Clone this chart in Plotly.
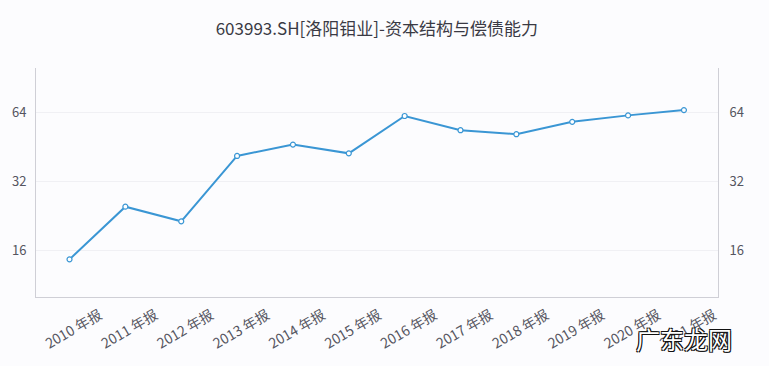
import plotly.graph_objects as go

title = "603993.SH[洛阳钼业]-资本结构与偿债能力"
categories = ["2010 年报", "2011 年报", "2012 年报", "2013 年报", "2014 年报", "2015 年报",
              "2016 年报", "2017 年报", "2018 年报", "2019 年报", "2020 年报", "2021 年报"]
values = [14.6, 24.8, 21.4, 41.3, 46.3, 42.4, 61.7, 53.5, 51.4, 58.2, 62.1, 65.5]
tick_vals = [16, 32, 64]
tick_text = ["16", "32", "64"]

font_family = "Noto Sans CJK SC, Noto Sans, sans-serif"
x_idx = list(range(len(categories)))

fig = go.Figure()
fig.add_trace(go.Scatter(
    x=x_idx, y=values, mode="lines+markers",
    line=dict(color="#3a96d4", width=2),
    marker=dict(symbol="circle", size=5, color="white", line=dict(color="#3a96d4", width=1.2)),
    showlegend=False, hoverinfo="y",
))
fig.add_trace(go.Scatter(
    x=x_idx, y=values, mode="lines", yaxis="y2",
    line=dict(color="rgba(0,0,0,0)", width=0),
    showlegend=False, hoverinfo="skip",
))

axis_common = dict(
    type="log", range=[1, 2], tickvals=tick_vals, ticktext=tick_text,
    tickfont=dict(size=13, color="#555560", family=font_family),
    showline=True, linecolor="#cfcfd6", linewidth=1, ticks="",
    zeroline=False,
)
fig.update_layout(
    width=769, height=366,
    margin=dict(l=33, r=51, t=68, b=69),
    paper_bgcolor="#fcfcfe", plot_bgcolor="#fcfcfe",
    title=dict(text=title, x=0.49, xanchor="center", y=0.92, yanchor="middle",
               font=dict(size=17, color="#3a3a44", family=font_family)),
    xaxis=dict(
        tickmode="array", tickvals=x_idx, ticktext=categories,
        range=[-0.6, 11.61], tickangle=-30,
        tickfont=dict(size=14, color="#555560", family=font_family),
        showline=True, linecolor="#cfcfd6", linewidth=1, showgrid=False,
        ticks="", zeroline=False, ticklabelshift=30, ticklabelstandoff=4,
    ),
    yaxis=dict(**axis_common, side="left", showgrid=True, gridcolor="#f0f0f4", gridwidth=1,
               ticklabelstandoff=6),
    yaxis2=dict(**axis_common, side="right", overlaying="y", showgrid=False,
                ticklabelstandoff=8),
    annotations=[dict(
        text="广东龙网", xref="paper", yref="paper", x=(684 - 33) / 685, y=-(338 - 297) / 229,
        xanchor="center", yanchor="middle", showarrow=False,
        font=dict(size=24, color="white", family=font_family,
                  shadow="1px 1px 0 #111, -1px -1px 0 #111, 1px -1px 0 #111, -1px 1px 0 #111"),
    )],
)

fig.write_html("out.html")
